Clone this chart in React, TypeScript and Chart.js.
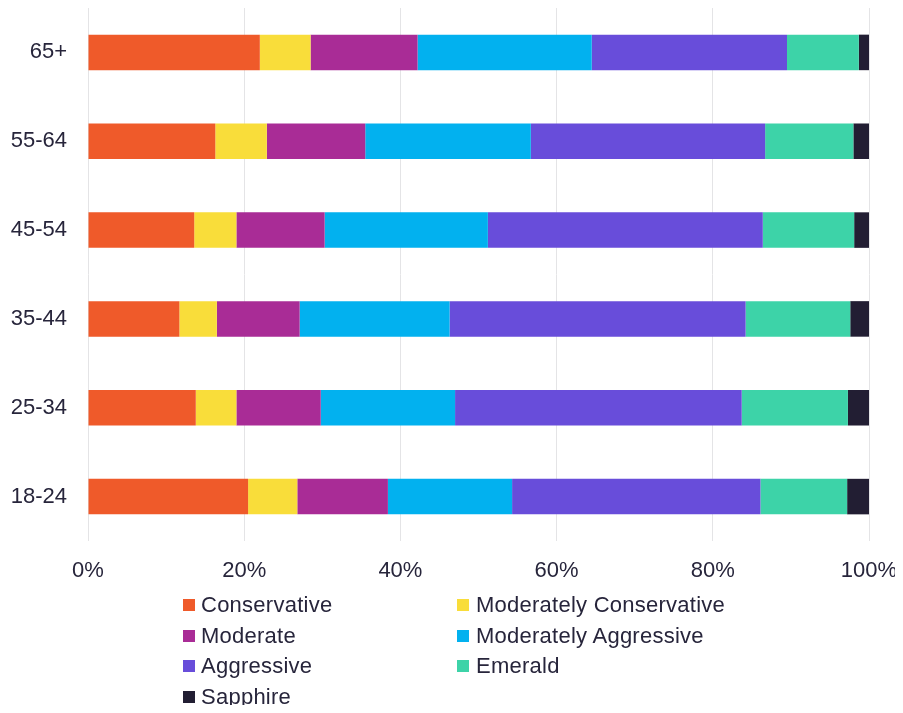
import React, { useEffect, useRef } from "react";
import { Chart, registerables } from "chart.js";

Chart.register(...registerables);

const ageGroups = ["65+", "55-64", "45-54", "35-44", "25-34", "18-24"];

const conservative = [22.0, 16.3, 13.6, 11.7, 13.8, 20.5];
const moderatelyConservative = [6.5, 6.6, 5.4, 4.8, 5.2, 6.3];
const moderate = [13.7, 12.6, 11.3, 10.6, 10.8, 11.6];
const moderatelyAggressive = [22.3, 21.2, 20.9, 19.2, 17.2, 15.9];
const aggressive = [25.0, 30.0, 35.2, 37.9, 36.7, 31.8];
const emerald = [9.2, 11.3, 11.7, 13.4, 13.6, 11.1];
const sapphire = [1.3, 2.0, 1.9, 2.4, 2.7, 2.8];

const seriesNames = [
  "Conservative",
  "Moderately Conservative",
  "Moderate",
  "Moderately Aggressive",
  "Aggressive",
  "Emerald",
  "Sapphire",
];
const seriesValues = [
  conservative,
  moderatelyConservative,
  moderate,
  moderatelyAggressive,
  aggressive,
  emerald,
  sapphire,
];
const seriesColors = [
  "#EF5A2A",
  "#F9DD3A",
  "#A92C96",
  "#02B1EF",
  "#684DDA",
  "#3DD3A8",
  "#221E33",
];

const xTicks = [0, 20, 40, 60, 80, 100];

const FONT = "'Liberation Sans', Arial, Helvetica, sans-serif";
const TEXT = "#27253b";

export default function App() {
  const canvasRef = useRef<HTMLCanvasElement | null>(null);

  useEffect(() => {
    if (!canvasRef.current) return;
    const chart = new Chart(canvasRef.current, {
      type: "bar",
      data: {
        labels: ageGroups,
        datasets: seriesNames.map((name, i) => ({
          label: name,
          data: seriesValues[i],
          backgroundColor: seriesColors[i],
          borderWidth: 0,
          categoryPercentage: 0.8,
          barPercentage: 0.5,
        })),
      },
      options: {
        indexAxis: "y",
        responsive: false,
        animation: false,
        devicePixelRatio: 1,
        layout: { padding: { top: 8, left: 0, right: 34, bottom: 0 } },
        plugins: {
          legend: { display: false },
          tooltip: { enabled: false },
        },
        scales: {
          x: {
            stacked: true,
            min: 0,
            max: 100,
            afterBuildTicks: (scale: any) => {
              scale.ticks = xTicks.map((v) => ({ value: v }));
            },
            afterFit: (scale: any) => {
              scale.height = 713 - 541;
              scale.paddingRight = 0;
              scale.paddingLeft = 0;
            },
            grid: {
              color: "#e4e4e6",
              lineWidth: 1,
              drawTicks: false,
            },
            border: { display: false },
            ticks: {
              padding: 17,
              color: TEXT,
              font: { family: FONT, size: 22 },
              callback: (v: any) => v + "%",
              maxRotation: 0,
            },
          },
          y: {
            stacked: true,
            afterFit: (scale: any) => {
              scale.width = 88;
              scale.paddingTop = 0;
              scale.paddingBottom = 0;
            },
            grid: { display: false, drawTicks: false },
            border: { display: false },
            ticks: {
              padding: 21,
              color: TEXT,
              font: { family: FONT, size: 22 },
            },
          },
        },
      },
    });
    return () => chart.destroy();
  }, []);

  const colX = [183, 457];
  const textX = [201, 476];
  const rowY = [605, 635.5, 666, 696.5];

  return (
    <div style={{ position: "relative", width: 903, height: 713, margin: -8 }}>
      <canvas ref={canvasRef} width={903} height={713} style={{ display: "block" }} />
      {seriesNames.map((name, i) => {
        const col = i % 2;
        const row = Math.floor(i / 2);
        return (
          <div
            key={name}
            style={{
              position: "absolute",
              left: colX[col],
              top: rowY[row] - 15,
              height: 30,
              display: "flex",
              alignItems: "center",
              whiteSpace: "nowrap",
            }}
          >
            <span
              style={{
                display: "inline-block",
                width: 12,
                height: 12,
                background: seriesColors[i],
                marginRight: textX[col] - colX[col] - 12,
              }}
            />
            <span
              style={{
                fontFamily: FONT,
                fontSize: 22,
                lineHeight: "30px",
                letterSpacing: "0.25px",
                color: TEXT,
              }}
            >
              {name}
            </span>
          </div>
        );
      })}
    </div>
  );
}
